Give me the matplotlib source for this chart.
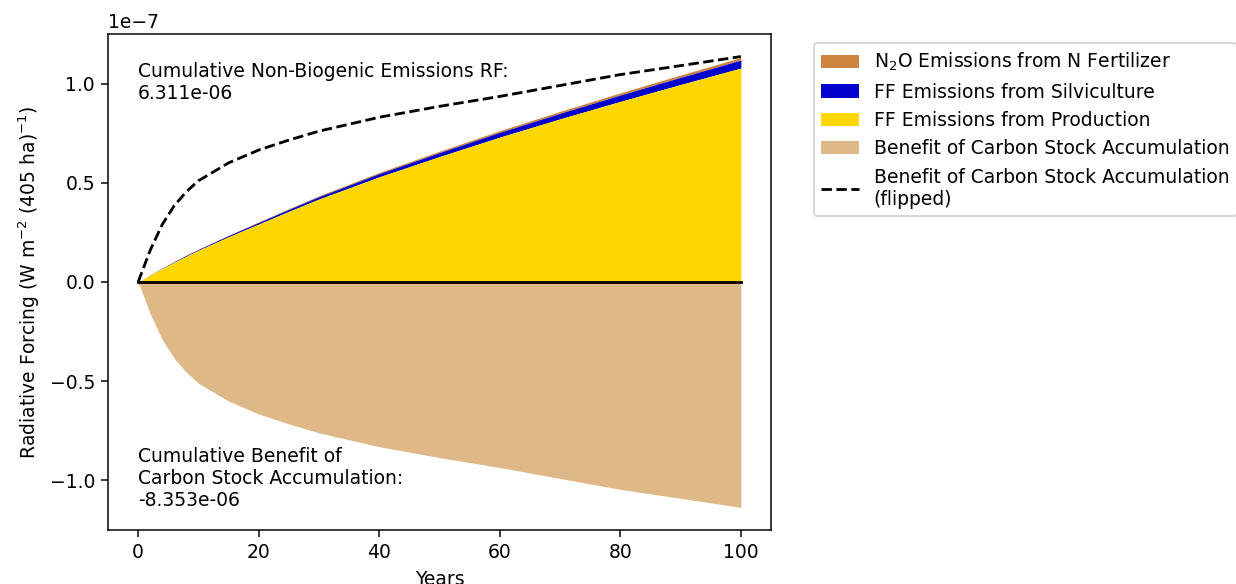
import matplotlib.pyplot as plt
import numpy as np

# values in units of 1e-7 W m-2 (405 ha)-1
years = [0, 2, 4, 6, 8, 10, 15, 20, 25, 30, 40, 50, 60, 70, 80, 90, 100]
production = [0, 0.035, 0.068, 0.100, 0.130, 0.160, 0.228, 0.292, 0.356, 0.418, 0.530,
              0.632, 0.730, 0.822, 0.910, 0.995, 1.078]
silviculture = [0, 0.001, 0.002, 0.003, 0.004, 0.004, 0.006, 0.008, 0.010, 0.012, 0.016,
                0.020, 0.024, 0.028, 0.032, 0.036, 0.040]
n2o_fertilizer = [0, 0.0003, 0.0006, 0.0009, 0.0012, 0.0015, 0.0022, 0.003, 0.0037, 0.0045,
                  0.006, 0.0072, 0.0085, 0.0097, 0.011, 0.012, 0.013]
carbon_benefit = [0, -0.16, -0.29, -0.385, -0.455, -0.51, -0.60, -0.665, -0.715, -0.76,
                  -0.83, -0.885, -0.935, -0.99, -1.045, -1.09, -1.136]

cumulative_emissions = 6.311e-06
cumulative_benefit = -8.353e-06

years = np.array(years)
prod = np.array(production) * 1e-7
silv = np.array(silviculture) * 1e-7
n2o = np.array(n2o_fertilizer) * 1e-7
benefit = np.array(carbon_benefit) * 1e-7

dpi = 135
fig = plt.figure(figsize=(1236 / dpi, 584 / dpi), dpi=dpi)
ax = fig.add_axes([0.0874, 0.0925, 0.5364, 0.8493])

h_n2o = ax.fill_between(years, prod + silv, prod + silv + n2o, color="peru", lw=0,
                        label="N$_2$O Emissions from N Fertilizer")
h_silv = ax.fill_between(years, prod, prod + silv, color="mediumblue", lw=0,
                         label="FF Emissions from Silviculture")
h_prod = ax.fill_between(years, 0, prod, color="gold", lw=0,
                         label="FF Emissions from Production")
h_ben = ax.fill_between(years, 0, benefit, color="burlywood", lw=0,
                        label="Benefit of Carbon Stock Accumulation")
h_flip, = ax.plot(years, -benefit, color="black", ls="--", lw=1.5,
                  label="Benefit of Carbon Stock Accumulation\n(flipped)")
ax.plot(years, np.zeros_like(benefit), color="black", lw=1.5)

ax.text(0, 0.9e-7, f"Cumulative Non-Biogenic Emissions RF:\n{cumulative_emissions:.3e}",
        ha="left", va="bottom", fontsize=10)
ax.text(0, -1.15e-7, f"Cumulative Benefit of\nCarbon Stock Accumulation:\n{cumulative_benefit:.3e}",
        ha="left", va="bottom", fontsize=10)

ax.set_xlabel("Years")
ax.set_ylabel("Radiative Forcing (W m$^{-2}$ (405 ha)$^{-1}$)")

ax.legend(handles=[h_n2o, h_silv, h_prod, h_ben, h_flip],
          bbox_to_anchor=(1.05, 1), loc="upper left")

fig.savefig("out.png", dpi=dpi)
